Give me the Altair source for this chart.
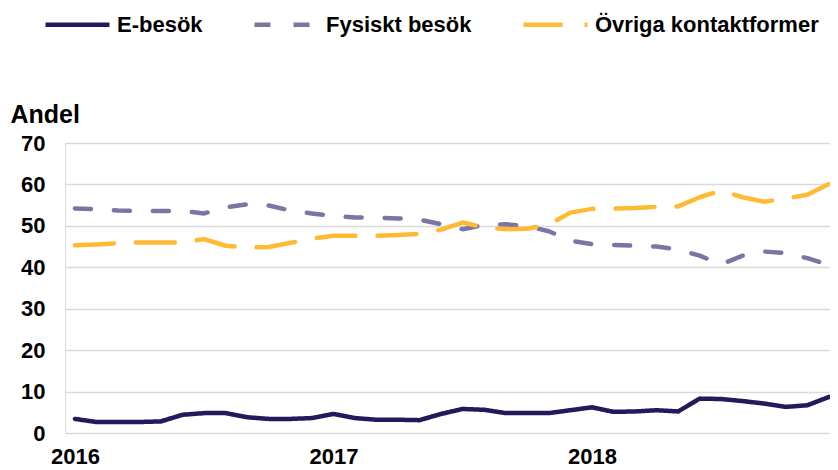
import altair as alt
import pandas as pd

series = ["E-besök", "Fysiskt besök", "Övriga kontaktformer"]
colors = ["#201B5A", "#7B74A5", "#FFBA33"]
dashes = [[1, 0], [16, 23], [39, 22]]
year_ticks = [0, 12, 24]
y_ticks = [0, 10, 20, 30, 40, 50, 60, 70]

e_besok = [3.4, 2.65, 2.65, 2.65, 2.8, 4.4, 4.8, 4.8, 3.8, 3.4,
           3.4, 3.6, 4.6, 3.6, 3.2, 3.2, 3.1, 4.6, 5.8, 5.6,
           4.8, 4.8, 4.8, 5.5, 6.2, 5.1, 5.2, 5.5, 5.2, 8.3,
           8.2, 7.7, 7.1, 6.3, 6.7, 8.7]
fysiskt = [54.2, 54.0, 53.7, 53.6, 53.6, 53.6, 53.0, 54.5, 55.2, 54.9,
           53.7, 53.0, 52.4, 52.0, 52.0, 51.8, 51.5, 50.4, 49.2, 50.2,
           50.4, 49.9, 48.7, 46.4, 45.6, 45.4, 45.2, 45.0, 44.3, 42.8,
           40.7, 42.8, 43.8, 43.4, 42.2, 40.6]
ovriga = [45.3, 45.5, 45.8, 46.0, 46.0, 46.0, 46.8, 45.2, 44.8, 44.9,
          45.9, 46.9, 47.6, 47.6, 47.6, 47.8, 48.1, 49.1, 50.8, 49.6,
          49.2, 49.3, 50.3, 53.2, 54.1, 54.2, 54.3, 54.6, 54.7, 56.9,
          58.5, 56.9, 55.8, 56.6, 57.5, 60.1]

rows = []
for name, vals in zip(series, [e_besok, fysiskt, ovriga]):
    for i, v in enumerate(vals):
        rows.append({"serie": name, "m": i, "andel": v})
df = pd.DataFrame(rows)

font = "Liberation Sans"

legend = alt.Legend(
    orient="none", legendX=-22, legendY=-153, direction="horizontal",
    title=None, symbolType="stroke", symbolSize=4096, symbolStrokeWidth=4.5,
    labelFont=font, labelFontSize=22, labelFontWeight="bold", labelColor="black",
    labelLimit=400, columnPadding=42, labelOffset=5, padding=0,
)

chart = alt.Chart(df).mark_line(
    strokeWidth=4.5, strokeCap="round", strokeJoin="round", clip=False
).encode(
    x=alt.X("m:Q",
            scale=alt.Scale(domain=[-0.46, 35.05], nice=False, zero=False),
            axis=alt.Axis(values=year_ticks, labelExpr="2016 + datum.value / 12",
                          title=None, grid=False, ticks=False, domain=False,
                          labelPadding=13, labelFontSize=22, labelFont=font,
                          labelFontWeight="bold", labelColor="black")),
    y=alt.Y("andel:Q",
            scale=alt.Scale(domain=[0, 70], nice=False),
            axis=alt.Axis(values=y_ticks, title="Andel", titleAngle=0,
                          titleX=-55, titleY=-21, titleAlign="left",
                          titleBaseline="alphabetic", titleFontSize=25,
                          titleFont=font, titleFontWeight="bold", titleColor="black",
                          grid=True, gridColor="#D9D9D9", gridWidth=1.5,
                          ticks=False, domain=False, labelPadding=20,
                          labelFontSize=22, labelFont=font, labelFontWeight="bold",
                          labelColor="black")),
    color=alt.Color("serie:N", scale=alt.Scale(domain=series, range=colors), legend=legend),
    strokeDash=alt.StrokeDash("serie:N", scale=alt.Scale(domain=series, range=dashes), legend=legend),
).properties(
    width=765, height=290,
    autosize=alt.AutoSizeParams(type="none"),
    padding={"left": 57, "top": 135, "right": 0, "bottom": 36},
).configure_view(stroke=None).configure(background="white")

chart.save("out.html", embed_options={"renderer": "svg", "actions": False})
